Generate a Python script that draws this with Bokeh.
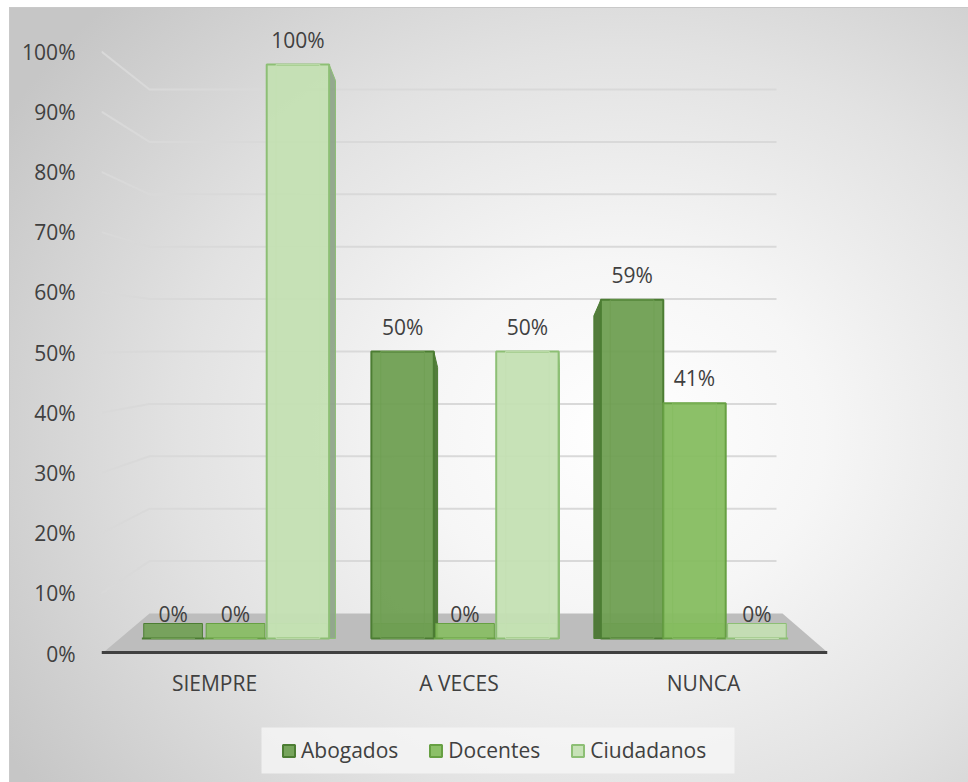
from bokeh.plotting import figure
from bokeh.models import Range1d, FixedTicker, Legend, LegendItem, ColumnDataSource, NumeralTickFormatter
from bokeh.core.properties import value
from bokeh.embed import file_html
from bokeh.resources import INLINE

# ---------------- data ----------------
categories = ["SIEMPRE", "A VECES", "NUNCA"]
series = ["Abogados", "Docentes", "Ciudadanos"]
abogados = [0.00, 0.50, 0.59]
docentes = [0.00, 0.00, 0.41]
ciudadanos = [1.00, 0.50, 0.00]
y_ticks = [0.0, 0.1, 0.2, 0.3, 0.4, 0.5, 0.6, 0.7, 0.8, 0.9, 1.0]

# ---------------- style ----------------
FONT = "Open Sans"
FS = "21px"
TXT = "#404040"
fills = ["#6f9f52", "#86bd60", "#c4e0b3"]
lines = ["#4c7d33", "#67a043", "#8dbf75"]
sides = ["#4a7532", "#5e9a3e", "#8fa58a"]

W, H = 959, 775
ML, MT = 9, 7                         # page offset of the chart box
FL, FR, FT, FB = 100, 826, 20, 782    # frame edges (page px)

# axis scale: 0% at 652 px, 100% at 50 px
AX0, AX1 = 652.0, 50.0
# bar (front plane) scale: 0 at 637 px, 1 at 63 px
BY0, BY1 = 637.0, 63.0
# bar x-plane: group i centre at 119.25 + 229.5*(i+0.5)
BXA, BXS = 119.25, 229.5
# label x-plane: category i centre at 90.75 + 244.5*(i+0.5)
LXA, LXS = 90.75, 244.5
VP = 560.0   # horizontal vanishing point (px)

def ay(px):
    return (AX0 - px) / (AX0 - AX1)

def by(px):
    return (BY0 - px) / (BY0 - BY1)

def bx(px):
    return (px - BXA) / BXS

def lx(px):
    return (px - LXA) / LXS

p = figure(width=W, height=H, output_backend="svg", toolbar_location=None,
           x_range=Range1d(lx(FL), lx(FR)), y_range=Range1d(ay(FB), ay(FT)),
           min_border_left=FL - ML, min_border_right=ML + W - FR,
           min_border_top=FT - MT, min_border_bottom=0)
p.margin = (MT, 0, 0, ML)
p.extra_x_ranges = {"bx": Range1d(bx(FL), bx(FR))}
p.extra_y_ranges = {"by": Range1d(by(FB), by(FT))}
p.border_fill_alpha = 0
p.background_fill_alpha = 0
p.outline_line_color = None
p.styles = {
    "background-image": "radial-gradient(ellipse 75% 80% at 64% 55%, #ffffff 0%, #f6f6f6 28%, #e2e2e2 62%, #c6c6c6 100%)",
    "border-top": "1px solid #c9c9c9",
    "border-left": "1px solid #c9c9c9",
}
p.xgrid.visible = False
p.ygrid.visible = False
p.xaxis.visible = False

# ---------------- value axis ----------------
p.yaxis.ticker = FixedTicker(ticks=y_ticks)
p.yaxis.formatter = NumeralTickFormatter(format="0%")
p.yaxis.axis_line_color = None
p.yaxis.major_tick_line_color = None
p.yaxis.minor_tick_line_color = None
p.yaxis.major_label_standoff = 20
p.yaxis.major_label_text_font = FONT
p.yaxis.major_label_text_font_size = FS
p.yaxis.major_label_text_color = TXT

# ---------------- back wall grid (perspective) ----------------
back0, back1 = 612.0, 88.0       # back wall 0% and 100% (px)
gx_front, gx_back, gx_right = 100.0, 148.0, 775.0
for t in y_ticks[1:]:
    yb = by(back0 - (back0 - back1) * t)
    yf = by(AX0 - (AX0 - AX1) * t)
    p.line([bx(gx_front), bx(gx_back), bx(gx_right)], [yf, yb, yb],
           x_range_name="bx", y_range_name="by", line_color="#d9d9d9", line_width=2)

# ---------------- floor ----------------
p.patch([bx(148), bx(781), bx(825), bx(103)], [by(612), by(612), by(650), by(650)],
        x_range_name="bx", y_range_name="by", fill_color="#bdbdbd", line_color=None)

# ---------------- category axis (line + labels) ----------------
p.line([lx(FL), lx(FR)], [ay(651), ay(651)], line_color="#404040", line_width=3)
cat_pos = [i + 0.5 for i in range(len(categories))]
p.text(x=cat_pos, y=[0.0] * len(categories), text=categories, y_offset=29,
       text_align="center", text_baseline="middle",
       text_font=value(FONT), text_font_size=FS, text_color=TXT)

# ---------------- bars ----------------
offsets = [-0.272, 0.0, 0.272]
bw = 0.272
depth = by(622) - by(637)
slant = by(62) - by(78)
renderers = []
all_series = [abogados, docentes, ciudadanos]
for k, (name, vals) in enumerate(zip(series, all_series)):
    xs = [i + 0.5 + offsets[k] for i in range(len(categories))]
    # side faces (perspective), drawn first so the front faces cover overlaps
    sx, sy = [], []
    for i, (xc, v) in enumerate(zip(xs, vals)):
        if v <= 0:
            continue
        cpx = BXA + BXS * xc
        if cpx < VP:
            nb = k + 1
            if nb < len(all_series) and all_series[nb][i] >= v:
                continue
            w = min(7.0, 0.024 * (VP - cpx)) / BXS
            edge = xc + bw / 2
            sx.append([edge, edge + w, edge + w, edge])
        else:
            nb = k - 1
            if nb >= 0 and all_series[nb][i] >= v:
                continue
            w = min(7.0, 0.1 * (cpx - VP)) / BXS
            edge = xc - bw / 2
            sx.append([edge, edge - w, edge - w, edge])
        sy.append([v, v - slant, 0, 0])
    if sx:
        p.patches(sx, sy, x_range_name="bx", y_range_name="by",
                  fill_color=sides[k], fill_alpha=0.95, line_color=lines[k], line_width=1)
    src = ColumnDataSource(dict(x=xs, top=vals, lab=[f"{round(v * 100)}%" for v in vals]))
    # base (floor) face
    p.vbar(x="x", top=depth, bottom=0, width=bw * 0.94, source=src,
           x_range_name="bx", y_range_name="by",
           fill_color=fills[k], fill_alpha=0.9, line_color=lines[k], line_width=1)
    # front face
    r = p.vbar(x="x", top="top", bottom=0, width=bw, source=src,
               x_range_name="bx", y_range_name="by",
               fill_color=fills[k], fill_alpha=0.95, line_color=lines[k], line_width=2)
    renderers.append(r)
    # inner edge (seen through the translucent bar)
    p.vbar(x="x", top="top", bottom=0, width=bw * 0.7, source=src,
           x_range_name="bx", y_range_name="by",
           fill_alpha=0, line_color=fills[k], line_alpha=0.8, line_width=1)
    p.text(x="x", y="top", text="lab", source=src, x_range_name="bx", y_range_name="by",
           y_offset=-25, text_align="center", text_baseline="middle",
           text_font=value(FONT), text_font_size=FS, text_color=TXT)

# ---------------- legend ----------------
p.quad(left=[bx(260)], right=[bx(733)], bottom=[by(772)], top=[by(726)],
       x_range_name="bx", y_range_name="by",
       fill_color="#f7f7f7", fill_alpha=0.75, line_color=None)
legend = Legend(items=[LegendItem(label=s, renderers=[r]) for s, r in zip(series, renderers)],
                orientation="horizontal", location=(180, 19))
legend.label_text_font = FONT
legend.label_text_font_size = FS
legend.label_text_color = TXT
legend.glyph_width = 15
legend.glyph_height = 15
legend.label_standoff = 5
legend.spacing = 30
legend.padding = 10
legend.margin = 0
legend.background_fill_alpha = 0
legend.border_line_color = None
p.add_layout(legend, "center")

open("out.html", "w").write(file_html(p, INLINE))
